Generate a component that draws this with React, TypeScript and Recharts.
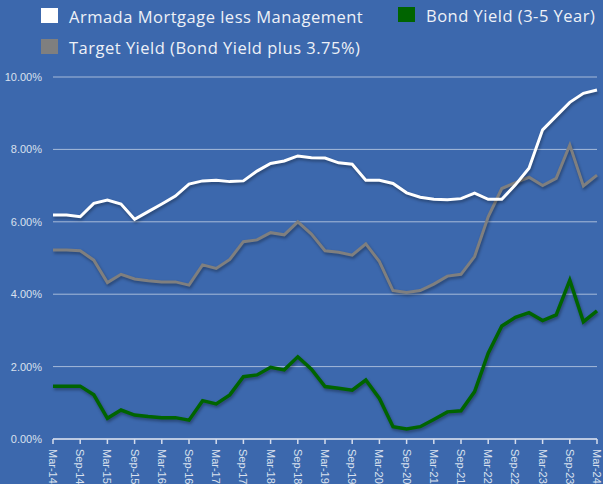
import { LineChart, Line, XAxis, YAxis, CartesianGrid } from 'recharts';

const years = ['14', '15', '16', '17', '18', '19', '20', '21', '22', '23', '24'];
const quarterMonths = ['Mar', 'Jun', 'Sep', 'Dec'];

// quarterly labels Mar-14 .. Mar-24
const quarters: string[] = years.flatMap((y) => quarterMonths.map((m) => `${m}-${y}`)).slice(0, 41);

const armada = [
  6.19, 6.19, 6.14, 6.51, 6.6, 6.49, 6.07, 6.28, 6.49, 6.71,
  7.04, 7.13, 7.15, 7.11, 7.13, 7.4, 7.61, 7.68, 7.82, 7.77,
  7.76, 7.63, 7.59, 7.15, 7.15, 7.06, 6.8, 6.68, 6.62, 6.61,
  6.64, 6.79, 6.62, 6.62, 7.02, 7.48, 8.54, 8.92, 9.3, 9.55,
  9.64,
];

const targetYield = [
  5.22, 5.22, 5.2, 4.94, 4.32, 4.55, 4.42, 4.37, 4.34, 4.34,
  4.25, 4.81, 4.71, 4.96, 5.45, 5.5, 5.7, 5.64, 6.0, 5.66,
  5.2, 5.16, 5.08, 5.39, 4.9, 4.1, 4.05, 4.1, 4.28, 4.5,
  4.55, 5.04, 6.14, 6.92, 7.08, 7.23, 7.0, 7.2, 8.12, 6.99,
  7.29,
];

const bondYield = [
  1.46, 1.46, 1.46, 1.22, 0.57, 0.8, 0.66, 0.62, 0.59, 0.59,
  0.52, 1.06, 0.97, 1.22, 1.72, 1.77, 1.98, 1.91, 2.27, 1.93,
  1.45, 1.4, 1.35, 1.63, 1.12, 0.34, 0.28, 0.34, 0.54, 0.75,
  0.78, 1.31, 2.37, 3.12, 3.36, 3.49, 3.27, 3.43, 4.39, 3.24,
  3.54,
];

const yTicks = [0, 2, 4, 6, 8, 10];

const data = quarters.map((q, i) => ({
  quarter: q,
  armada: armada[i],
  target: targetYield[i],
  bond: bondYield[i],
}));

const BG = '#3c68ad';
const LEGEND_FONT = '"Open Sans", sans-serif';
const AXIS_FONT = '"Liberation Sans", Arial, sans-serif';

const legendItems = [
  { label: 'Armada Mortgage less Management', color: '#ffffff', left: 41, top: 8 },
  { label: 'Bond Yield (3-5 Year)', color: '#006400', left: 398, top: 7 },
  { label: 'Target Yield (Bond Yield plus 3.75%)', color: '#7f7f7f', left: 41, top: 39 },
];

function XTick({ x, y, payload }: any) {
  return (
    <text
      x={x}
      y={y}
      transform={`rotate(90 ${x} ${y})`}
      dy={4}
      dx={3}
      fill="#d9e0ee"
      fontSize={11}
      fontFamily={AXIS_FONT}
      textAnchor="start"
    >
      {payload.value}
    </text>
  );
}

export default function App() {
  return (
    <div style={{ position: 'relative', width: 603, height: 484, background: BG, overflow: 'hidden' }}>
      <style>{`body{margin:0} .recharts-line-curve{filter:drop-shadow(1px 2px 1.5px rgba(0,0,0,0.35));}`}</style>
      {legendItems.map((item) => (
        <div
          key={item.label}
          style={{ position: 'absolute', left: item.left, top: item.top, display: 'flex', alignItems: 'center', height: 15 }}
        >
          <div style={{ width: 17, height: 15, background: item.color, marginRight: 11, flexShrink: 0 }} />
          <span
            style={{
              color: '#eef1f7',
              fontFamily: LEGEND_FONT,
              fontSize: 16.5,
              letterSpacing: 0.5,
              lineHeight: '16px',
              whiteSpace: 'nowrap',
              marginTop: 2,
            }}
          >
            {item.label}
          </span>
        </div>
      ))}
      <LineChart
        width={603}
        height={484}
        data={data}
        margin={{ top: 77, right: 6, left: 0, bottom: 0 }}
      >
        <CartesianGrid vertical={false} stroke="rgba(255,255,255,0.55)" strokeWidth={1} />
        <XAxis
          dataKey="quarter"
          interval={1}
          height={45}
          stroke="#d4dced"
          strokeWidth={1.5}
          tickSize={5}
          tick={<XTick />}
        />
        <YAxis
          domain={[0, 10]}
          ticks={yTicks}
          width={53}
          axisLine={false}
          tickLine={false}
          tickSize={9}
          tickMargin={2}
          tick={{ fill: '#d9e0ee', fontSize: 11, fontFamily: AXIS_FONT }}
          tickFormatter={(v: number) => `${v.toFixed(2)}%`}
        />
        <Line type="linear" dataKey="target" stroke="#7f7f7f" strokeWidth={3} dot={false} isAnimationActive={false} />
        <Line type="linear" dataKey="armada" stroke="#ffffff" strokeWidth={3} dot={false} isAnimationActive={false} />
        <Line type="linear" dataKey="bond" stroke="#006400" strokeWidth={3.5} dot={false} isAnimationActive={false} />
      </LineChart>
    </div>
  );
}
